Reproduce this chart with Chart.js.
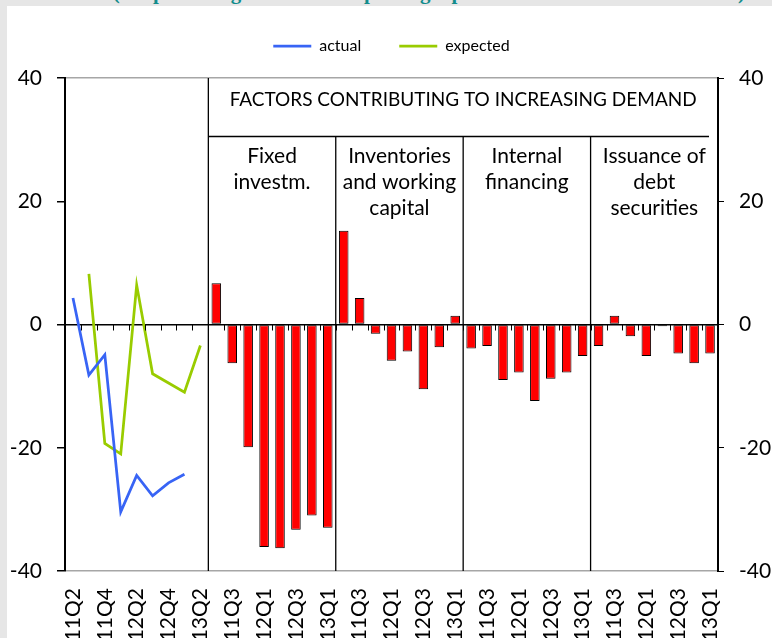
<!DOCTYPE html>
<html>
<head>
<meta charset="utf-8">
<script src="https://cdn.jsdelivr.net/npm/chart.js@4"></script>
<style>
  html, body { margin: 0; padding: 0; width: 772px; height: 638px; overflow: hidden; background: #e6e6e6; }
  #title { position: absolute; right: 27px; top: -20px; white-space: nowrap; font: bold 21px "Liberation Serif", serif; color: #138c8c; }
  #panel { position: absolute; left: 7px; top: 6px; width: 765px; height: 700px; background: #fff; }
  #wrap { position: absolute; left: 0; top: 0; width: 772px; height: 680px; }
</style>
</head>
<body>
<div id="title">(net percentages of banks reporting a positive contribution to demand)</div>
<div id="panel"></div>
<div id="wrap"><canvas id="chart"></canvas></div>
<script>
// ── Data ──────────────────────────────────────────────────

const leftQuarters = ['2011Q2', '2011Q3', '2011Q4', '2012Q1', '2012Q2', '2012Q3', '2012Q4', '2013Q1', '2013Q2'];
const surveyQuarters = ['2011Q2', '2011Q3', '2011Q4', '2012Q1', '2012Q2', '2012Q3', '2012Q4', '2013Q1'];

const actual = [4.3, -8.2, -4.9, -30.4, -24.5, -27.8, -25.7, -24.3, null];
const expected = [null, 8.2, -19.3, -21.0, 6.4, -8.0, -9.5, -11.0, -3.4];

const fixedInvestment = [6.7, -6.3, -19.9, -36.1, -36.3, -33.3, -31.0, -33.0];
const inventories = [15.2, 4.3, -1.5, -5.9, -4.4, -10.5, -3.7, 1.4];
const internalFinancing = [-3.9, -3.5, -9.0, -7.8, -12.4, -8.8, -7.8, -5.1];
const debtIssuance = [-3.5, 1.4, -1.9, -5.1, -0.3, -4.7, -6.3, -4.7];

const factorNames = [
    ['Fixed', 'investm.'],
    ['Inventories', 'and working', 'capital'],
    ['Internal', 'financing'],
    ['Issuance of', 'debt', 'securities']
];
const headerText = 'FACTORS CONTRIBUTING TO INCREASING DEMAND';
const yTicks = [-40, -20, 0, 20, 40];

// ── Build series ──────────────────────────────────────────

const factorSeries = [fixedInvestment, inventories, internalFinancing, debtIssuance];
const labels = leftQuarters.concat(...factorSeries.map(() => surveyQuarters));
const gap = n => Array(n).fill(null);
const tail = labels.length - leftQuarters.length;

const barData = gap(leftQuarters.length).concat(...factorSeries);
const actualData = actual.concat(gap(tail));
const expectedData = expected.concat(gap(tail));

const FONT = 'Lato';
const headerLevel = 30.6; // y value where the header row ends

// ── Sections overlay ─────────────────────────────────────

const sectionPlugin = {
    id: 'sections',
    afterDatasetsDraw(chart) {
        const { ctx, chartArea: a, scales: { x, y } } = chart;
        const step = x.getPixelForValue(1) - x.getPixelForValue(0);
        const edge = i => x.getPixelForValue(i) - step / 2;
        const zero = y.getPixelForValue(0);
        const headY = Math.round(y.getPixelForValue(headerLevel)) + 0.5;
        const first = leftQuarters.length;
        const n = surveyQuarters.length;

        const line = (x1, y1, x2, y2) => {
            ctx.beginPath();
            ctx.moveTo(x1, y1);
            ctx.lineTo(x2, y2);
            ctx.stroke();
        };

        ctx.save();
        ctx.strokeStyle = '#000';
        ctx.lineWidth = 1;

        // small category ticks hanging off the zero line
        for (let i = 1; i < labels.length; i++) {
            const px = Math.round(edge(i)) + 0.5;
            line(px, zero, px, zero + 6);
        }

        // section frame
        ctx.lineWidth = 1.3;
        line(edge(first), a.top, edge(first), a.bottom);
        for (let s = 1; s < factorSeries.length; s++) {
            line(edge(first + s * n), headY, edge(first + s * n), a.bottom);
        }
        line(edge(first), headY, a.right - 9, headY);

        // texts
        ctx.fillStyle = '#000';
        ctx.textAlign = 'center';
        ctx.textBaseline = 'alphabetic';
        ctx.font = `19px ${FONT}`;
        ctx.fillText(headerText, (edge(first) + a.right) / 2, a.top + 28);

        ctx.font = `21px ${FONT}`;
        factorNames.forEach((rows, s) => {
            const cx = (edge(first + s * n) + edge(first + (s + 1) * n)) / 2;
            rows.forEach((t, k) => ctx.fillText(t, cx, headY + 26 + k * 26));
        });
        ctx.restore();
    }
};

// ── Chart ────────────────────────────────────────────────

const gridColor = c => {
    const v = c.tick && c.tick.value;
    if (v === 0) return '#000';
    if (v === 40 || v === -40) return '#a6a6a6';
    return 'rgba(0,0,0,0)';
};

new Chart(document.getElementById('chart'), {
    data: {
        labels: labels,
        datasets: [
            {
                type: 'line',
                label: 'actual',
                data: actualData,
                borderColor: '#3864f5',
                backgroundColor: '#3864f5',
                borderWidth: 2.75,
                pointRadius: 0,
                tension: 0,
                order: 1
            },
            {
                type: 'line',
                label: 'expected',
                data: expectedData,
                borderColor: '#99cc00',
                backgroundColor: '#99cc00',
                borderWidth: 2.75,
                pointRadius: 0,
                tension: 0,
                order: 2
            },
            {
                type: 'bar',
                label: 'factors',
                data: barData,
                backgroundColor: '#ff0000',
                borderColor: '#000',
                borderWidth: 1,
                borderSkipped: false,
                categoryPercentage: 1,
                barPercentage: 0.6,
                order: 3
            }
        ]
    },
    options: {
        responsive: true,
        maintainAspectRatio: false,
        animation: false,
        layout: { padding: 0 },
        plugins: {
            legend: {
                position: 'top',
                fullSize: false,
                labels: {
                    filter: item => item.text !== 'factors',
                    usePointStyle: true,
                    pointStyle: 'line',
                    pointStyleWidth: 38,
                    padding: 38,
                    color: '#000',
                    font: { family: FONT, size: 16 }
                }
            },
            // empty spacer between legend and plot
            title: {
                display: true,
                text: ' ',
                weight: 500,
                padding: 0,
                font: { size: 14, lineHeight: 1 }
            },
            tooltip: { enabled: false }
        },
        scales: {
            x: {
                grid: { display: false, drawTicks: false },
                border: { display: false },
                ticks: {
                    autoSkip: false,
                    minRotation: 90,
                    maxRotation: 90,
                    padding: 17,
                    color: '#000',
                    font: { family: FONT, size: 21 },
                    callback: (v, i) => (i % 2 === 0 ? labels[i] : '')
                },
                afterFit: s => { s.height = 109; }
            },
            y: {
                position: 'left',
                min: -40,
                max: 40,
                afterBuildTicks: s => { s.ticks = yTicks.map(v => ({ value: v })); },
                grid: { color: gridColor, lineWidth: 1.5, tickColor: '#000', tickLength: 8 },
                border: { color: '#000', width: 2 },
                ticks: { color: '#000', padding: 15, font: { family: FONT, size: 21 } },
                afterFit: s => { s.width = 65; }
            },
            y2: {
                position: 'right',
                min: -40,
                max: 40,
                afterBuildTicks: s => { s.ticks = yTicks.map(v => ({ value: v })); },
                grid: { drawOnChartArea: false, tickColor: '#000', tickLength: 6 },
                border: { color: '#000', width: 2 },
                ticks: { color: '#000', padding: 15, font: { family: FONT, size: 21 } },
                afterFit: s => { s.width = 54; }
            }
        }
    },
    plugins: [sectionPlugin]
});
</script>
</body>
</html>
